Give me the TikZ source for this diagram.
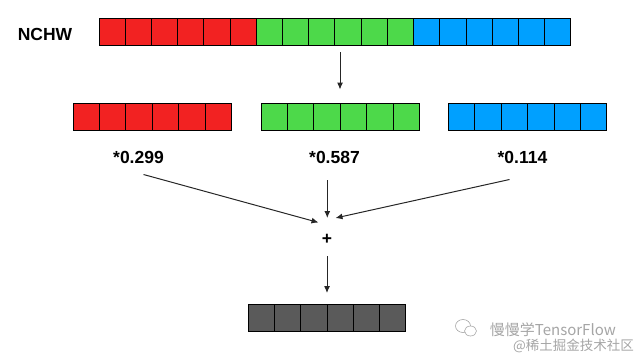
\documentclass[tikz,border=0pt]{standalone}
\usepackage{fontspec}
\setmainfont{Liberation Sans}
\newfontfamily\cjk{Noto Sans CJK SC}
\usepackage{xcolor}
\usepackage{tikz}
\usetikzlibrary{
	arrows.meta
}
\definecolor{cellred}{RGB}{242,34,34}
\definecolor{cellgreen}{RGB}{77,217,74}
\definecolor{cellblue}{RGB}{0,160,255}
\definecolor{cellgray}{RGB}{90,90,90}
\definecolor{markgray}{RGB}{165,165,165}
\tikzset{
	cell/.style={draw=black,line width=1pt},
	lbl/.style={font=\fontsize{17.5}{20}\selectfont\bfseries,inner sep=0pt},
	wmark/.style={text=markgray,inner sep=0pt,anchor=east}
}

\begin{document}
\begin{tikzpicture}[x=1pt,y=-1pt]
		\useasboundingbox (0,0) rectangle (640,359);
		% input tensor
		\foreach \i in {0,...,5} {
			\draw[cell,fill=cellred] ({99+\i*26.22},18.5) rectangle ++(26.22,27);
			\draw[cell,fill=cellgreen] ({256.3+\i*26.22},18.5) rectangle ++(26.22,27);
			\draw[cell,fill=cellblue] ({413.6+\i*26.22},18.5) rectangle ++(26.22,27);
		}
		% channels
		\foreach \i in {0,...,5} {
			\draw[cell,fill=cellred] ({73+\i*26.4},103.5) rectangle ++(26.4,26.5);
			\draw[cell,fill=cellgreen] ({261+\i*26.4},103.5) rectangle ++(26.4,26.5);
			\draw[cell,fill=cellblue] ({448.5+\i*26.4},103.5) rectangle ++(26.4,26.5);
		}
		% output
		\foreach \i in {0,...,5}
			\draw[cell,fill=cellgray] ({248.5+\i*26.2},304.5) rectangle ++(26.2,27);
		%
		\node[lbl] (nchw) at (45,34) {NCHW};
		\node[lbl] (r) at (138.5,157.5) {*0.299};
		\node[lbl] (g) at (334.5,157.5) {*0.587};
		\node[lbl] (b) at (522.5,157.5) {*0.114};
		\node[lbl] (plus) at (327,239.5) {+};
		%
		\coordinate (split0) at (340,52);
		\coordinate (split1) at (340,89.5);
		\coordinate (r0) at (143.5,174.5);
		\coordinate (r1) at (318.5,222.5);
		\coordinate (g0) at (327.3,180);
		\coordinate (g1) at (327.3,218);
		\coordinate (b0) at (509.5,179.5);
		\coordinate (b1) at (335.5,218);
		\coordinate (sum0) at (327,256);
		\coordinate (sum1) at (327,293);
		%
		\path[-{Latex[length=7pt,width=6pt]},line width=1pt,black!85]
		% split
		(split0) edge (split1)
		% weighted channels
		(r0) edge (r1)
		(g0) edge (g1)
		(b0) edge (b1)
		% sum
		(sum0) edge (sum1);
		%
		\draw[markgray,line width=0.6pt] (463,326) ellipse (7.5 and 6.5);
		\draw[markgray,line width=0.6pt,fill=white] (470.5,331) ellipse (6 and 5);
		\node[wmark] (wm1) at (616,330) {\cjk\fontsize{15}{17}\selectfont 慢慢学TensorFlow};
		\node[wmark] (wm2) at (634,346) {\cjk\fontsize{13.5}{15}\selectfont @稀土掘金技术社区};
	\end{tikzpicture}
\end{document}
